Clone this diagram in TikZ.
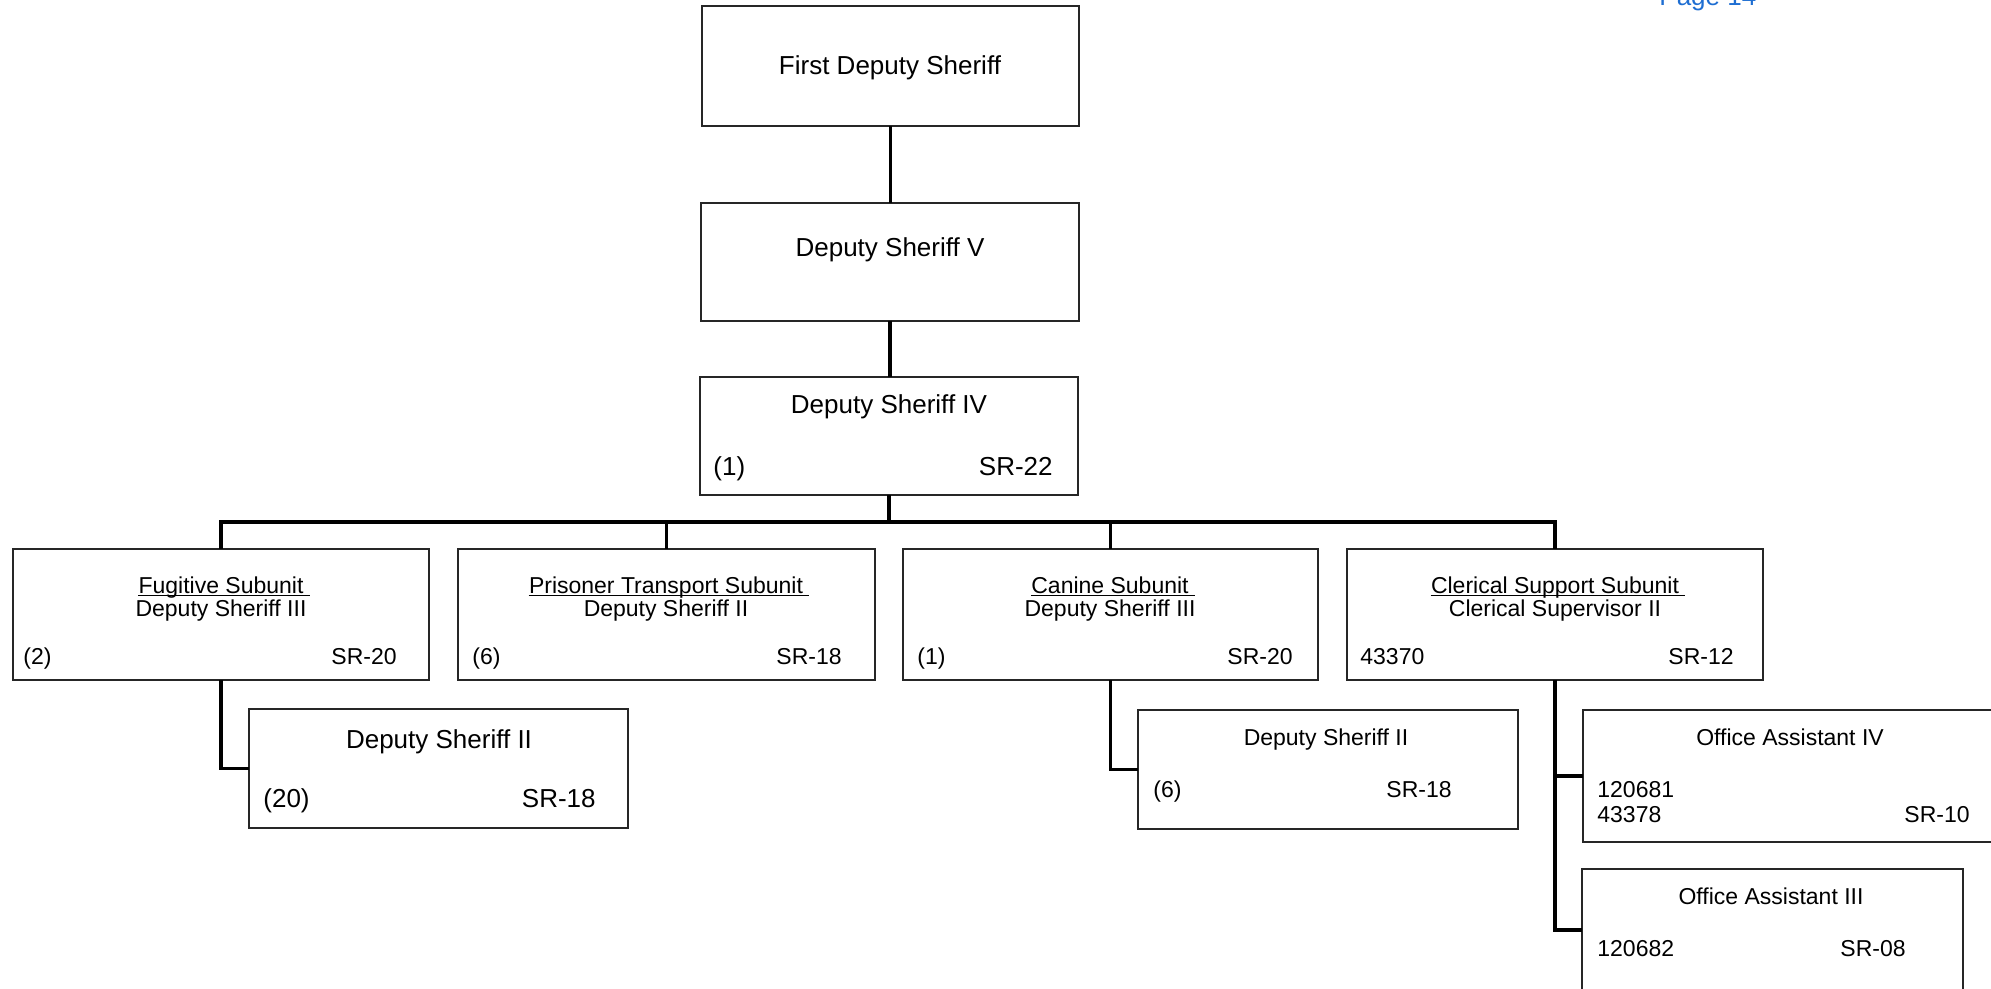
\documentclass[tikz,border=0pt]{standalone}
\usepackage{fontspec}
\setmainfont{Liberation Sans}
\definecolor{pageblue}{RGB}{30,110,210}
\newcommand\orgbox[5]{\node[boxst, minimum width={(#4-#2)*0.5pt}, minimum height={(#5-#3)*0.5pt}] (#1) at ({(#2+#4)/2},{(#3+#5)/2}) {};}
\begin{document}
\begin{tikzpicture}[x=0.5pt,y=-0.5pt,
  boxst/.style={draw=black!85, line width=0.7pt, inner sep=0pt, outer sep=0pt},
  link/.style={line width=1.9pt, line join=miter},
  big/.style={inner sep=0pt, font=\fontsize{13}{15}\selectfont, anchor=base},
  sml/.style={inner sep=0pt, font=\fontsize{11.5}{13}\selectfont, anchor=base},
  ul/.style={line width=0.6pt}]
\useasboundingbox (0,0) rectangle (1991,989);
\fill[white] (0,0) rectangle (1991,989);

% boxes
\orgbox{b1}{702}{6}{1079}{126}
\orgbox{b2}{701}{203}{1079}{321}
\orgbox{b3}{700}{377}{1078}{495}
\orgbox{fug}{13}{549}{429}{680}
\orgbox{pri}{458}{549}{875}{680}
\orgbox{can}{903}{549}{1318}{680}
\orgbox{clr}{1347}{549}{1763}{680}
\orgbox{dsa}{249}{709}{628}{828}
\orgbox{dsb}{1138}{710}{1518}{829}
\orgbox{oa4}{1583}{710}{2010}{842}
\orgbox{oa3}{1582}{869}{1963}{991}

% page label
\node[anchor=base west, inner sep=0pt, font=\fontsize{13}{15}\selectfont, text=pageblue] (pg) at (1659,6) {Page 14};

% top texts
\node[big] (t1) at (890,75) {First Deputy Sheriff};
\node[big] (t2) at (890,257) {Deputy Sheriff V};
\node[big] (t3) at (889,414) {Deputy Sheriff IV};
\node[big, anchor=base west] (t3l) at (713,475) {(1)};
\node[big, anchor=base east] (t3r) at (1053,475) {SR-22};

% level 3 texts
\node[sml] (fugu) at (221,593) {Fugitive Subunit};
\node[sml] (fugt) at (221,616) {Deputy Sheriff III};
\node[sml, anchor=base west] (fugl) at (23,664) {(2)};
\node[sml, anchor=base east] (fugr) at (397,664) {SR-20};

\node[sml] (priu) at (666,593) {Prisoner Transport Subunit};
\node[sml] (prit) at (666,616) {Deputy Sheriff II};
\node[sml, anchor=base west] (pril) at (472,664) {(6)};
\node[sml, anchor=base east] (prir) at (842,664) {SR-18};

\node[sml] (canu) at (1110,593) {Canine Subunit};
\node[sml] (cant) at (1110,616) {Deputy Sheriff III};
\node[sml, anchor=base west] (canl) at (917,664) {(1)};
\node[sml, anchor=base east] (canr) at (1293,664) {SR-20};

\node[sml] (clru) at (1555,593) {Clerical Support Subunit};
\node[sml] (clrt) at (1555,616) {Clerical Supervisor II};
\node[sml, anchor=base west] (clrl) at (1360,664) {43370};
\node[sml, anchor=base east] (clrr) at (1734,664) {SR-12};

\foreach \n in {fugu,priu,canu,clru}
  \draw[ul] ([yshift=-1.2pt]\n.base west) -- ([yshift=-1.2pt,xshift=3pt]\n.base east);

% level 4 texts
\node[big] (dsat) at (439,748) {Deputy Sheriff II};
\node[big, anchor=base west] (dsal) at (263,807) {(20)};
\node[big, anchor=base east] (dsar) at (596,807) {SR-18};

\node[sml] (dsbt) at (1326,745) {Deputy Sheriff II};
\node[sml, anchor=base west] (dsbl) at (1153,797) {(6)};
\node[sml, anchor=base east] (dsbr) at (1452,797) {SR-18};

\node[sml] (oa4t) at (1790,745) {Office Assistant IV};
\node[sml, anchor=base west] (oa4a) at (1597,797) {120681};
\node[sml, anchor=base west] (oa4b) at (1597,822) {43378};
\node[sml, anchor=base east] (oa4r) at (1970,822) {SR-10};

\node[sml] (oa3t) at (1771,904) {Office Assistant III};
\node[sml, anchor=base west] (oa3a) at (1597,956) {120682};
\node[sml, anchor=base east] (oa3r) at (1906,956) {SR-08};

% connectors
\coordinate (bus) at (889,522);
\draw[link] (b1.south) -- (b1.south |- b2.north);
\draw[link] (b2.south) -- (b2.south |- b3.north);
\draw[link] (b3.south) -- (bus);
\draw[link] (fug.north) -- (fug.north |- bus) -- (clr.north |- bus) -- (clr.north);
\draw[link] (pri.north) -- (pri.north |- bus);
\draw[link] (can.north) -- (can.north |- bus);
\draw[link] (fug.south) |- (dsa.west);
\draw[link] (can.south) |- (dsb.west);
\draw[link] (clr.south) |- (oa4.west);
\draw[link] (clr.south) |- (oa3.west);
\end{tikzpicture}
\end{document}
